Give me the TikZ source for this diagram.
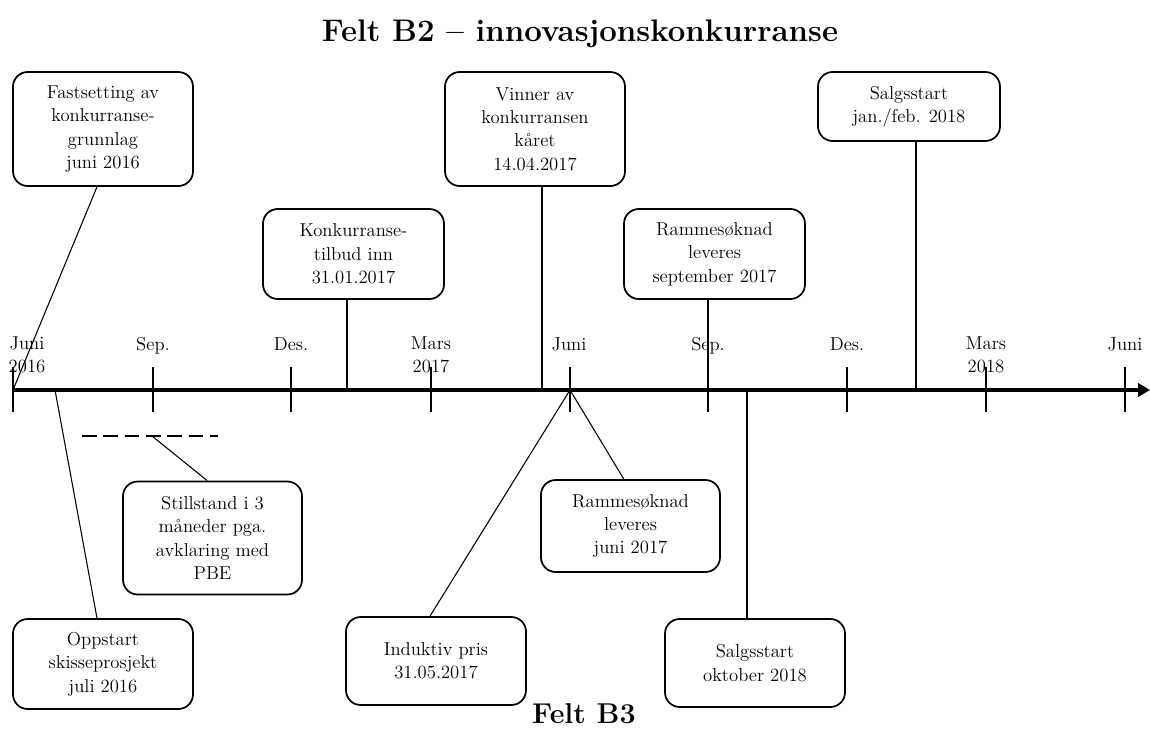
\documentclass[tikz,border=0pt]{standalone}
\usetikzlibrary{arrows.meta}
\begin{document}
\begin{tikzpicture}[x=0.75pt,y=-0.75pt,
  txt/.style={font=\fontsize{14}{17.5}\selectfont, align=center},
  evbox/.style 2 args={draw, line width=1.3pt, rounded corners=11pt, txt, inner sep=0pt,
    minimum width=#1*0.75pt, minimum height=#2*0.75pt},
  conn/.style={line width=0.8pt},
  tick/.style={line width=0.8pt},
  axis/.style={line width=3pt, -{Triangle[length=9pt,width=10pt]}},
  ttl/.style={font=\fontsize{21.5}{26}\selectfont\bfseries}]
\useasboundingbox (0,0) rectangle (1150,749);

% titles
\node[ttl,font=\fontsize{23.4}{28}\selectfont\bfseries] (tb2) at (580,34) {Felt B2 -- innovasjonskonkurranse};
\node[ttl] (tb3) at (584,714) {Felt B3};

% axis
\coordinate (ax0) at (13,390);
\coordinate (axe) at (1150,390);
\draw[axis] (ax0) -- (axe);

% ticks
\foreach \x/\n in {13/m0,153/m1,291/m2,431/m3,570/m4,708/m5,847/m6,986/m7,1125/m8}{
  \coordinate (\n) at (\x,390);
  \draw[tick] (\x,367) -- (\x,412);
}

% tick labels
\node[txt] (l0) at (27,355) {Juni\\2016};
\node[txt,anchor=base] (l1) at (153,350) {Sep.};
\node[txt,anchor=base] (l2) at (291,350) {Des.};
\node[txt] (l3) at (431,355) {Mars\\2017};
\node[txt,anchor=base] (l4) at (569,350) {Juni};
\node[txt,anchor=base] (l5) at (708,350) {Sep.};
\node[txt,anchor=base] (l6) at (847,350) {Des.};
\node[txt] (l7) at (986,355) {Mars\\2018};
\node[txt,anchor=base] (l8) at (1125,350) {Juni};

% event boxes above
\node[evbox={180}{114}] (f1) at (103,129) {Fastsetting av\\konkurranse-\\grunnlag\\juni 2016};
\node[evbox={181}{90}] (k1) at (353.5,254) {Konkurranse-\\tilbud inn\\31.01.2017};
\node[evbox={180}{114}] (v1) at (535,129) {Vinner av\\konkurransen\\kåret\\14.04.2017};
\node[evbox={181}{90}] (r1) at (714.5,254) {Rammesøknad\\leveres\\september 2017};
\node[evbox={182}{69}] (s1) at (909,106.5) {Salgsstart\\jan./feb. 2018};

% event boxes below
\node[evbox={180}{90}] (o1) at (103,664) {Oppstart\\skisseprosjekt\\juli 2016};
\node[evbox={179}{113}] (st) at (212.5,538) {Stillstand i 3\\måneder pga.\\avklaring med\\PBE};
\node[evbox={180}{88}] (ip) at (436,661) {Induktiv pris\\31.05.2017};
\node[evbox={179}{92}] (rj) at (630.5,526) {Rammesøknad\\leveres\\juni 2017};
\node[evbox={180}{88}] (so) at (755,663) {Salgsstart\\oktober 2018};

% axis points for connectors
\coordinate (pO) at (55,390);
\coordinate (pK) at (347,390);
\coordinate (pV) at (542,390);
\coordinate (pR) at (708,390);
\coordinate (pS) at (916,390);
\coordinate (pSo) at (747,390);

% dashed stand-still line
\coordinate (dA) at (82,436);
\coordinate (dB) at (218,436);
\coordinate (dM) at (152,436);
\draw[line width=2pt, dash pattern=on 11pt off 5pt] (dA) -- (dB);

% connectors
\draw[conn] ([xshift=-4.5pt]f1.south) -- (m0);
\draw[conn] (k1.south -| pK) -- (pK);
\draw[conn] (v1.south -| pV) -- (pV);
\draw[conn] (r1.south -| pR) -- (pR);
\draw[conn] (s1.south -| pS) -- (pS);
\draw[conn] ([xshift=-4.5pt]o1.north) -- (pO);
\draw[conn] (dM) -- ([xshift=-4pt]st.north);
\draw[conn] ([xshift=-4.5pt]ip.north) -- (m4);
\draw[conn] ([xshift=-5pt]rj.north) -- (m4);
\draw[conn] (so.north -| pSo) -- (pSo);
\end{tikzpicture}
\end{document}
